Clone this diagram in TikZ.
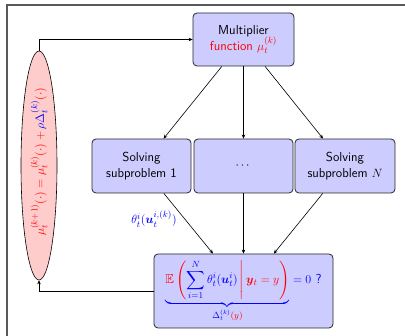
\documentclass[tikz,border=0pt]{standalone}
\usepackage{amsmath,amssymb}
\usetikzlibrary{shapes.geometric,arrows.meta}
\begin{document}
\begin{tikzpicture}[x=1pt,y=-1pt,
  every node/.style={font=\fontsize{13}{15.5}\selectfont\sffamily},
  box/.style={draw=black!85,fill=blue!20,rounded corners=4pt,line width=0.8pt,align=center,inner sep=0pt},
  conn/.style={draw=black,line width=0.6pt},
  arr/.style={conn,-{Stealth[length=4pt,width=3.5pt]}},
  frameline/.style={draw=black!65,line width=1.4pt}]
\useasboundingbox (0,0) rectangle (405,336);
\draw[frameline] (405,5) -- (7,5) -- (7,336);
\node[box,minimum width=101pt,minimum height=53pt] (mult) at (243.5,39.5)
  {Multiplier\\[-1pt]{\color{red}function $\mu_t^{(k)}$}};
\node[box,minimum width=99pt,minimum height=54pt] (sub1) at (141.5,166) {Solving\\subproblem 1};
\node[box,minimum width=99pt,minimum height=54pt] (sub2) at (243.5,166) {$\cdots$};
\node[box,minimum width=100pt,minimum height=54pt] (sub3) at (345,166) {Solving\\subproblem $N$};
\node[box,minimum width=179pt,minimum height=74pt] (bot) at (243.5,291)
  {$\color{blue}\underbrace{\color{red}\mathbb{E}\left(\color{blue}\sum_{i=1}^{N}\theta_t^i(\boldsymbol{u}_t^i)\color{red}\,\middle|\,\boldsymbol{y}_t=y\right)}_{\color{blue}\Delta_t^{(k)}\color{red}(y)}\color{blue}=0$ \color{blue}?};
\node[ellipse,draw=black,line width=0.6pt,fill=red!20,minimum width=36pt,minimum height=229pt,inner sep=0pt] (ell) at (39,165.5) {};
\node[rotate=90,text=red,inner sep=0pt] (elltext) at (39,162)
  {$\mu_t^{(k+1)}(\cdot)=\mu_t^{(k)}(\cdot)+{\color{blue}\rho\Delta_t^{(k)}}(\cdot)$};
\draw[arr] (ell.north) |- (mult.west);
\draw[arr] (bot.west) -| (ell.south);
\draw[arr] (mult) -- (sub1);
\draw[arr] (mult) -- (sub2);
\draw[arr] (mult) -- (sub3);
\draw[arr] (sub1) -- (bot);
\draw[arr] (sub2) -- (bot);
\draw[arr] (sub3) -- (bot);
\node[text=blue] (lab) at (154,219) {$\theta_t^i(\boldsymbol{u}_t^{i,(k)})$};
\end{tikzpicture}
\end{document}
